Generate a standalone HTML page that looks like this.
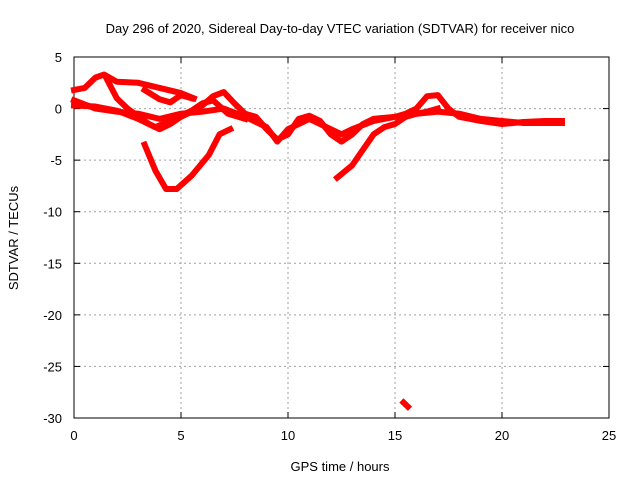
<!DOCTYPE html>
<html><head><meta charset="utf-8"><style>
body{margin:0;background:#fff}
svg{font-family:"Liberation Sans",sans-serif;font-size:13px}
</style></head><body>
<svg width="640" height="480">
<rect width="640" height="480" fill="#fff"/>
<g id="grid"></g>
<g id="axes"></g>
<g id="series"></g>
<text x="340" y="33" text-anchor="middle">Day 296 of 2020, Sidereal Day-to-day VTEC variation (SDTVAR) for receiver nico</text>
<text x="340" y="471" text-anchor="middle">GPS time / hours</text>
<text transform="translate(18,238) rotate(-90)" text-anchor="middle">SDTVAR / TECUs</text>
</svg>
<script>
const xTicks=[0,5,10,15,20,25];
const yTicks=[5,0,-5,-10,-15,-20,-25,-30];
const trackA=[[0,1.8],[0.5,2],[1,3],[1.4,3.3],[2,2.6],[3,2.5],[4,2],[5,1.5],[5.6,1]];
const trackB=[[1.5,3],[2,1],[2.5,0],[3.5,-1.5],[4,-2],[4.5,-1.5],[5,-0.8],[5.5,-0.3],[6,0.3],[6.5,1.2],[7,1.6],[7.5,0.5],[8,-0.5],[8.5,-0.8],[9,-2],[9.5,-3],[10,-2.5],[10.5,-1],[11,-0.7],[11.5,-1.2],[12,-2.5],[12.5,-3.2],[13,-2.5],[13.5,-1.5],[14,-1],[15,-0.8],[15.5,-0.5],[16,0],[16.5,1.2],[17,1.3],[17.5,0],[18,-0.8],[19,-1.2],[20,-1.5],[21,-1.3],[22,-1.2],[22.8,-1.2]];
const trackC=[[0,0.8],[1,0],[2,-0.3],[3,-0.5],[4,-1],[5,-0.5],[6,-0.3],[7,0],[8,-0.8],[9,-1.8],[9.5,-3.2],[10,-2],[11,-1],[12,-2],[12.5,-2.5],[13,-2],[14,-1.2],[15,-0.8],[16,-0.5],[17,-0.3],[18,-0.5],[19,-1],[20,-1.2],[21,-1.4],[22.8,-1.4]];
const trackD=[[0,0.3],[1,0.2],[2,-0.2],[3,-1],[3.8,-1.8],[4.5,-1.2],[5.5,-0.2],[6,0.5],[6.5,0.8],[7.2,-0.5],[8,-1]];
const trackE=[[3.3,1.8],[4,0.9],[4.5,0.6],[5,1.3],[5.5,1]];
const trackDip=[[3.3,-3.5],[3.8,-6],[4.3,-7.8],[4.8,-7.8],[5.5,-6.5],[6.3,-4.5],[6.8,-2.5],[7.3,-2]];
const trackLow=[[12.3,-6.7],[13,-5.5],[13.5,-4],[14,-2.5],[14.5,-1.8],[15,-1.5],[15.5,-0.8],[16,-0.5],[16.5,-0.3],[17,0]];
const trackOut=[[15.4,-28.5],[15.6,-28.9]];
const tracks=[trackA,trackB,trackC,trackD,trackE,trackDip,trackLow,trackOut];
const X0=74,X1=609,Y0=418,Y1=57,xmin=0,xmax=25,ymin=-30,ymax=5;
const sx=v=>X0+(v-xmin)/(xmax-xmin)*(X1-X0);
const sy=v=>Y0-(v-ymin)/(ymax-ymin)*(Y0-Y1);
const NS="http://www.w3.org/2000/svg";
function mk(t,a,p){const e=document.createElementNS(NS,t);for(const k in a)e.setAttribute(k,a[k]);p.appendChild(e);return e;}
const grid=document.getElementById('grid'),axes=document.getElementById('axes'),ser=document.getElementById('series');
xTicks.forEach(t=>{const x=sx(t);
 if(t>xmin&&t<xmax){const l=mk('line',{x1:x,x2:x,y1:Y1,y2:Y0,stroke:'#a0a0a0','stroke-dasharray':'2,3'},grid);
 }
 mk('line',{x1:x,x2:x,y1:Y0,y2:Y0-6,stroke:'#000'},axes);mk('line',{x1:x,x2:x,y1:Y1,y2:Y1+6,stroke:'#000'},axes);
 const tx=mk('text',{x:x,y:Y0+22,'text-anchor':'middle'},axes);tx.textContent=t;
 });
yTicks.forEach(t=>{const y=sy(t);
 if(t>ymin&&t<ymax){const l=mk('line',{x1:X0,x2:X1,y1:y,y2:y,stroke:'#a0a0a0','stroke-dasharray':'2,3'},grid);
 }
 mk('line',{x1:X0,x2:X0+6,y1:y,y2:y,stroke:'#000'},axes);mk('line',{x1:X1,x2:X1-6,y1:y,y2:y,stroke:'#000'},axes);
 const tx=mk('text',{x:X0-12,y:y+5,'text-anchor':'end'},axes);tx.textContent=t;
 });
const fr=mk('rect',{x:X0,y:Y1,width:X1-X0,height:Y0-Y1,fill:'none',stroke:'#000'},axes);

tracks.forEach(tr=>{const p=mk('polyline',{points:tr.map(d=>sx(d[0])+','+sy(d[1])).join(' '),fill:'none',stroke:'#f00','stroke-width':6,'stroke-linejoin':'round','stroke-linecap':'square'},ser);
 });
</script>
</body></html>
